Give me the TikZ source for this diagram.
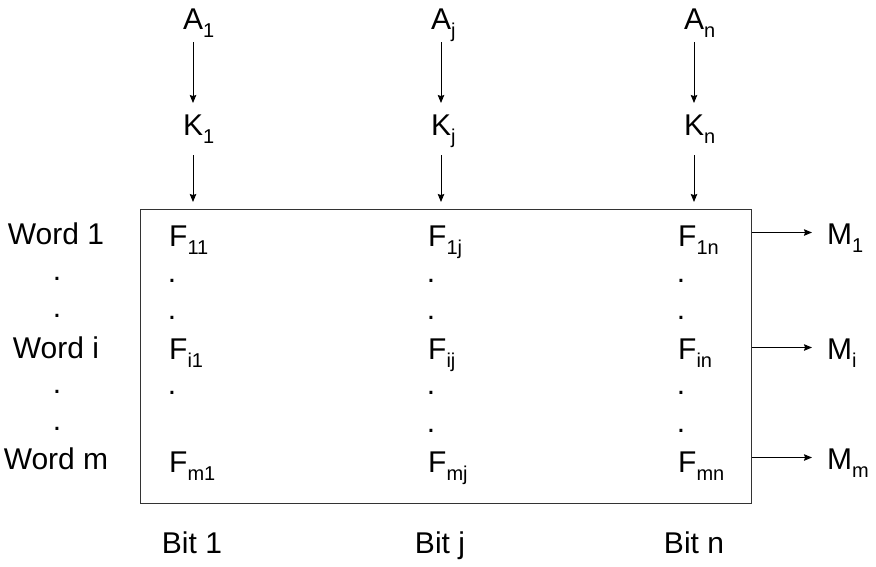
\documentclass[tikz,border=0pt]{standalone}
\usepackage{fontspec}
\setmainfont{Liberation Sans}
\usetikzlibrary{arrows.meta}
\newcommand\sbs[1]{\raisebox{-8pt}{\fontsize{20}{20}\selectfont #1}}
\tikzset{
 lbl/.style={inner sep=0pt, font=\fontsize{30}{36}\selectfont, anchor=base west},
 clbl/.style={inner sep=0pt, font=\fontsize{30}{36}\selectfont, anchor=base},
 arr/.style={line width=1pt, -{Stealth[length=8pt,width=6.5pt,inset=1pt]}},
 membox/.style={draw=black!80, line width=1.3pt, anchor=north west, minimum width=611pt, minimum height=294pt, inner sep=0pt},
}
\begin{document}
\begin{tikzpicture}[x=1pt,y=-1pt]
\useasboundingbox (0,0) rectangle (876,566);
% memory box
\node[membox] (mem) at (140,209) {};
% inputs
\node[lbl] (A1) at (183,29) {A\sbs{1}};
\node[lbl] (Aj) at (431,29) {A\sbs{j}};
\node[lbl] (An) at (684,29) {A\sbs{n}};
\node[lbl] (K1) at (183,135) {K\sbs{1}};
\node[lbl] (Kj) at (431,135) {K\sbs{j}};
\node[lbl] (Kn) at (684,135) {K\sbs{n}};
\foreach \c in {1,j,n}{
  \coordinate (a\c) at ([shift={(10pt,-13pt)}]A\c.base west);
  \coordinate (k\c) at ([shift={(10pt,32pt)}]K\c.base west);
  \coordinate (kb\c) at ([shift={(10pt,-20pt)}]K\c.base west);
  \draw[arr] (a\c) -- (k\c);
  \draw[arr, shorten >=7pt] (kb\c) -- (kb\c |- mem.north);
}
% cells
\node[lbl] (F11) at (169,246) {F\sbs{11}};
\node[lbl] (F1j) at (428,246) {F\sbs{1j}};
\node[lbl] (F1n) at (678,246) {F\sbs{1n}};
\node[lbl] (Fi1) at (169,359) {F\sbs{i1}};
\node[lbl] (Fij) at (428,359) {F\sbs{ij}};
\node[lbl] (Fin) at (678,359) {F\sbs{in}};
\node[lbl] (Fm1) at (169,472) {F\sbs{m1}};
\node[lbl] (Fmj) at (428,472) {F\sbs{mj}};
\node[lbl] (Fmn) at (678,472) {F\sbs{mn}};
% dots
\node[clbl] (wd1) at (57,280.5) {.};
\node[clbl] (wd2) at (57,317.5) {.};
\node[clbl] (wd3) at (57,393.5) {.};
\node[clbl] (wd4) at (57,430.5) {.};
\node[clbl] (c1d1) at (172,282.5) {.};
\node[clbl] (c1d2) at (172,319.5) {.};
\node[clbl] (c1d3) at (172,394.5) {.};
\node[clbl] (cjd1) at (431,282.5) {.};
\node[clbl] (cjd2) at (431,319.5) {.};
\node[clbl] (cjd3) at (431,394.5) {.};
\node[clbl] (cjd4) at (431,432.5) {.};
\node[clbl] (cnd1) at (681,282.5) {.};
\node[clbl] (cnd2) at (681,319.5) {.};
\node[clbl] (cnd3) at (681,394.5) {.};
\node[clbl] (cnd4) at (681,432.5) {.};
% words
\node[clbl] (W1) at (56,244) {Word 1};
\node[clbl] (Wi) at (56,358) {Word i};
\node[clbl] (Wm) at (56,469) {Word m};
% bits
\node[clbl] (B1) at (192,553) {Bit 1};
\node[clbl] (Bj) at (440,553) {Bit j};
\node[clbl] (Bn) at (694,553) {Bit n};
% outputs
\node[lbl] (M1) at (827,244) {M\sbs{1}};
\node[lbl] (Mi) at (827,359) {M\sbs{i}};
\node[lbl] (Mm) at (827,469) {M\sbs{m}};
\foreach \r in {1,i,m}{
  \coordinate (m\r) at ([yshift=11.5pt]M\r.base west);
  \draw[arr] (mem.east |- m\r) -- ([xshift=-15pt]m\r);
}
\end{tikzpicture}
\end{document}
